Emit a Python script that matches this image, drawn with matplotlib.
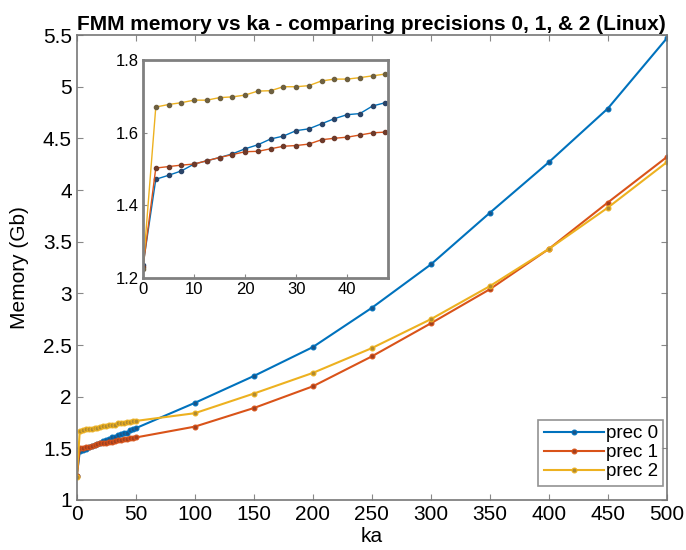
import matplotlib
matplotlib.use("Agg")
import matplotlib.pyplot as plt
from matplotlib.ticker import FormatStrFormatter

plt.rcParams['font.family'] = ['Liberation Sans', 'DejaVu Sans']

# ka values: fine sweep 0..50, then coarse 100..500
ka = [0, 2.5, 5, 7.5, 10, 12.5, 15, 17.5, 20, 22.5, 25, 27.5, 30, 32.5, 35,
      37.5, 40, 42.5, 45, 47.5, 50, 100, 150, 200, 250, 300, 350, 400, 450, 500]

prec0 = [1.235, 1.472, 1.483, 1.495, 1.514, 1.523, 1.532, 1.542, 1.556, 1.567,
         1.583, 1.591, 1.606, 1.611, 1.625, 1.639, 1.650, 1.653, 1.674, 1.683,
         1.695, 1.94, 2.20, 2.48, 2.86, 3.28, 3.78, 4.27, 4.79, 5.47]
prec1 = [1.23, 1.503, 1.507, 1.511, 1.514, 1.523, 1.532, 1.540, 1.548, 1.549,
         1.556, 1.563, 1.565, 1.569, 1.581, 1.585, 1.588, 1.594, 1.600, 1.602,
         1.605, 1.71, 1.89, 2.10, 2.39, 2.71, 3.04, 3.43, 3.88, 4.32]
prec2 = [1.225, 1.671, 1.678, 1.683, 1.690, 1.690, 1.697, 1.699, 1.704, 1.715,
         1.716, 1.727, 1.727, 1.730, 1.743, 1.748, 1.748, 1.752, 1.757, 1.762,
         1.765, 1.84, 2.03, 2.23, 2.47, 2.75, 3.07, 3.43, 3.83, 4.27]

labels = ["prec 0", "prec 1", "prec 2"]
series = [prec0, prec1, prec2]
line_colors = ['#0072BD', '#D95319', '#EDB120']
marker_colors = ['#1a5488', '#a04020', '#b08a30']
inset_marker_colors = ['#2a4468', '#6e3a2a', '#6e6040']

fig = plt.figure(figsize=(6.86, 5.5), dpi=100)
ax = fig.add_axes([0.112, 0.091, 0.860, 0.845])

for vals, lab, lc, mc in zip(series, labels, line_colors, marker_colors):
    ax.plot(ka, vals, '-o', color=lc, lw=1.5, ms=3.5, mfc=mc, mec=lc, mew=0.8,
            label=lab)

ax.set_xlim(0, 500)
ax.set_ylim(1, 5.5)
ax.set_xticks(range(0, 501, 50))
ax.set_yticks([1, 1.5, 2, 2.5, 3, 3.5, 4, 4.5, 5, 5.5])
ax.yaxis.set_major_formatter(FormatStrFormatter('%g'))
ax.tick_params(direction='in', top=True, right=True, labelsize=15,
               length=4, color='#888888')
for sp in ax.spines.values():
    sp.set_color('#777777')
    sp.set_linewidth(1.2)

ax.set_xlabel("ka", fontsize=15, labelpad=2)
ax.set_ylabel("Memory (Gb)", fontsize=15, labelpad=10)
ax.set_title("FMM memory vs ka - comparing precisions 0, 1, & 2 (Linux)",
             fontsize=15, fontweight='bold', pad=4)

leg = ax.legend(loc='lower right', fontsize=13.5, frameon=True, fancybox=False,
                handlelength=3.2, handletextpad=0.1, borderpad=0.3,
                labelspacing=0.1, borderaxespad=0,
                bbox_to_anchor=(0.994, 0.03))
leg.get_frame().set_edgecolor('#777777')
leg.get_frame().set_linewidth(1.2)

# inset: zoom on small ka
axin = fig.add_axes([0.2085, 0.4945, 0.357, 0.396])
for vals, lc, mc in zip(series, line_colors, inset_marker_colors):
    axin.plot(ka, vals, '-o', color=lc, lw=1.0, ms=3, mfc=mc, mec=mc)
axin.set_xlim(0, 48)
axin.set_ylim(1.2, 1.8)
axin.set_xticks([0, 10, 20, 30, 40])
axin.set_yticks([1.2, 1.4, 1.6, 1.8])
axin.yaxis.set_major_formatter(FormatStrFormatter('%g'))
axin.tick_params(direction='in', labelsize=12, length=3, color='#888888', pad=3)
for sp in axin.spines.values():
    sp.set_color('#808080')
    sp.set_linewidth(2)

fig.savefig("out.png", dpi=100)
